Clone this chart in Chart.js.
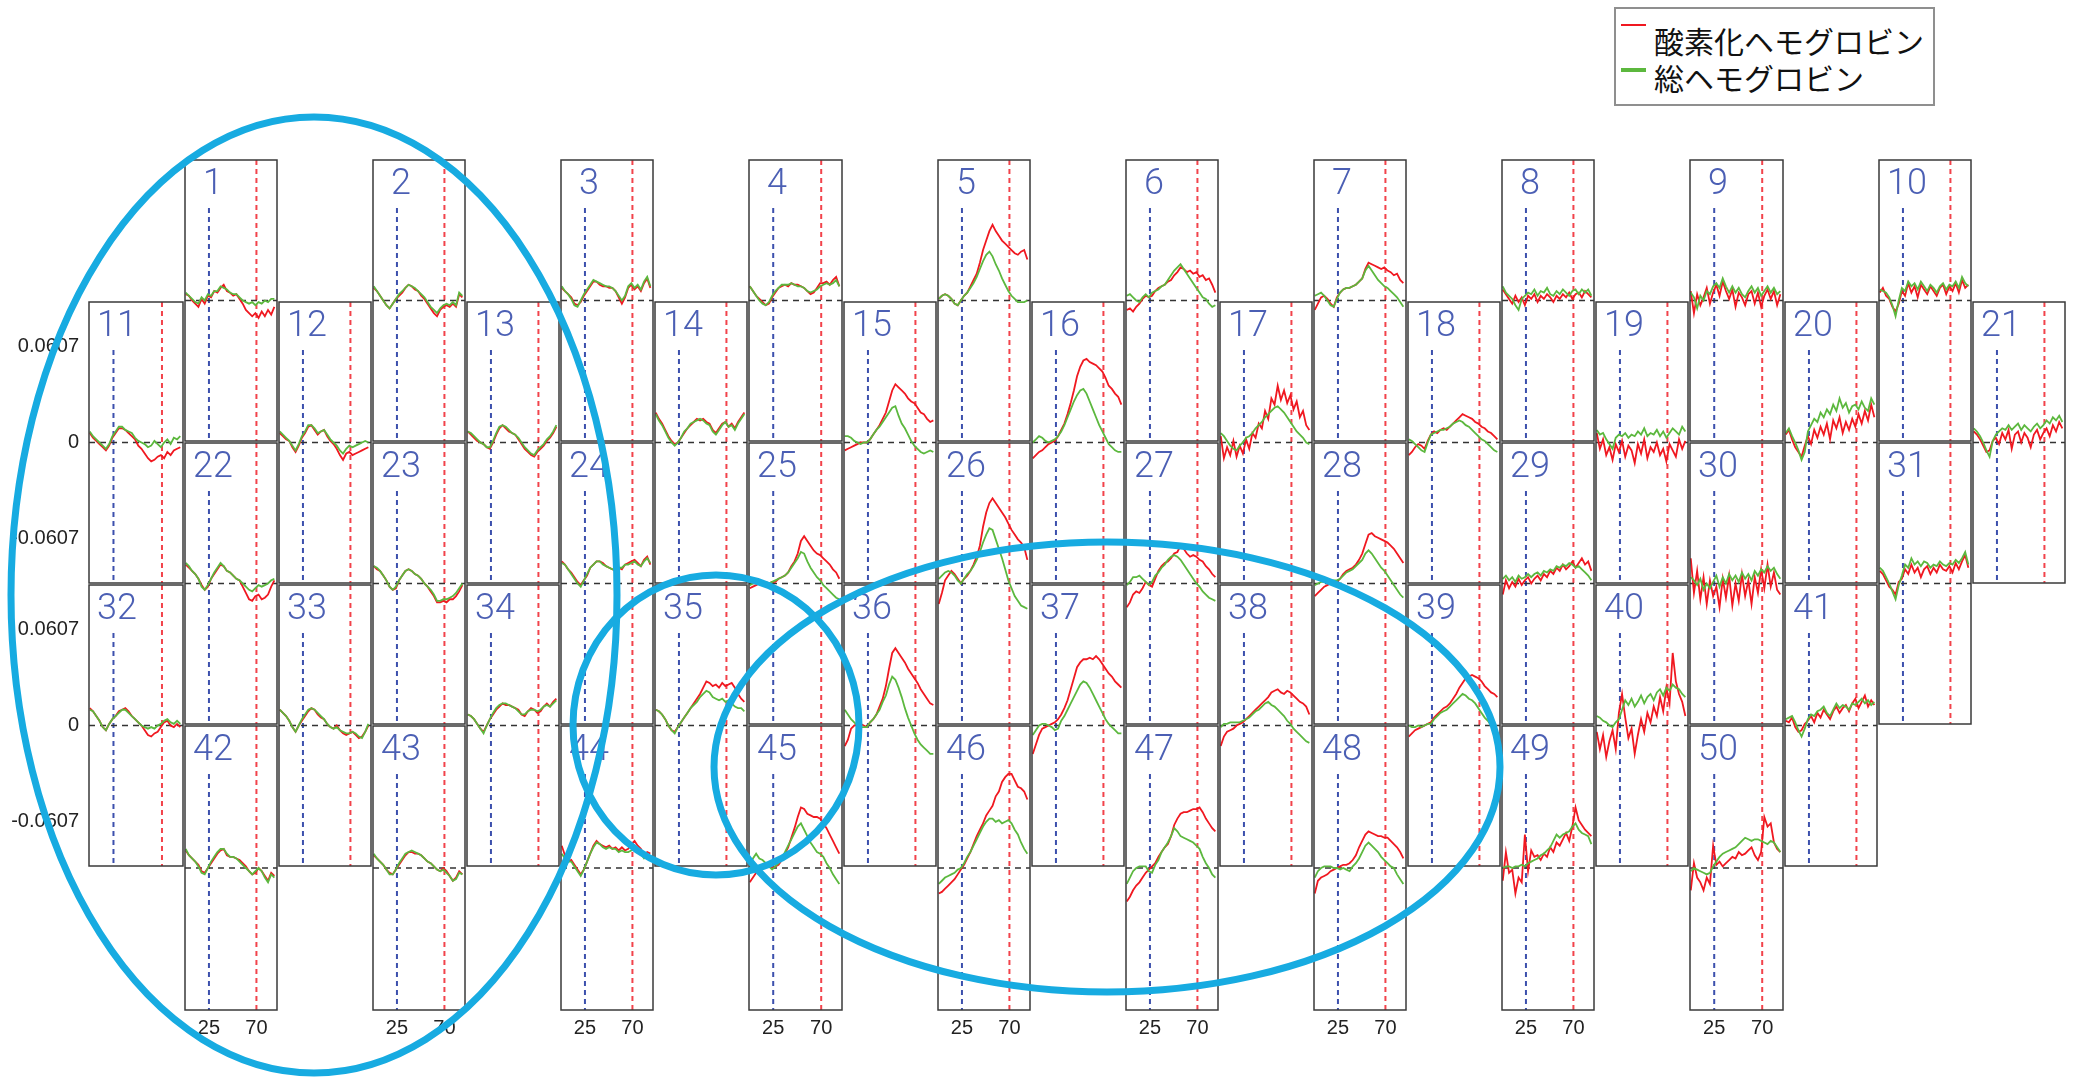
<!DOCTYPE html>
<html lang="ja">
<head>
<meta charset="utf-8">
<title>NIRS 50ch</title>
<script src="https://cdn.jsdelivr.net/npm/chart.js@4.4.1/dist/chart.umd.min.js"></script>
<style>
  html, body { margin: 0; padding: 0; background: #fff; }
  body { width: 2078px; height: 1081px; position: relative; overflow: hidden; }
  canvas.ch { position: absolute; }
  #overlay { position: absolute; left: 0; top: 0; pointer-events: none; z-index: 5; }
  #legend { position: absolute; left: 1614px; top: 7px; width: 321px; height: 99px; box-sizing: border-box;
            border: 2px solid #8f8f8f; background: #fff; font-family: 'Noto Sans CJK JP', sans-serif; font-size: 30px; color: #111; }
  #legend span { position: absolute; white-space: nowrap; line-height: 36px; }
</style>
</head>
<body>
<div id="legend"></div>
<canvas id="overlay" width="2078" height="1081"></canvas>
<script>
// time axis (s) and markers
const times = [3, 6, 9, 12, 15, 18, 21, 24, 27, 30, 33, 36, 39, 42, 45, 48, 51, 54, 57, 60, 63, 66, 69, 72, 75, 78, 81, 84, 87];
const xTicks = [25, 70];
const yTicks = [-0.0607, 0, 0.0607];
const yTickLabels = ['-0.0607', '0', '0.0607'];
const seriesNames = ['酸素化ヘモグロビン', '総ヘモグロビン'];
const channelRows = [
  [1, 2, 3, 4, 5, 6, 7, 8, 9, 10],
  [11, 12, 13, 14, 15, 16, 17, 18, 19, 20, 21],
  [22, 23, 24, 25, 26, 27, 28, 29, 30, 31],
  [32, 33, 34, 35, 36, 37, 38, 39, 40, 41],
  [42, 43, 44, 45, 46, 47, 48, 49, 50]
];

// values in units of 0.001
const oxy1 = [4,3,0,-2,-4,1,-2,3,2,6,5,8,10,6,5,3,4,1,-2,-6,-8,-10,-8,-11,-7,-10,-6,-9,-4];
const tot1 = [5,3,1,-1,-2,2,0,4,3,6,6,9,8,7,5,4,4,2,0,-1,-2,-1,-3,-1,-2,0,-1,1,1];
const oxy2 = [8,6,3,0,-3,-5,-2,1,3,5,8,10,9,7,6,3,1,-2,-5,-8,-10,-6,-4,-3,-4,-2,-4,4,2];
const tot2 = [9,6,3,0,-3,-5,-2,1,4,6,8,10,9,8,6,4,2,-1,-4,-6,-8,-5,-3,-2,-3,-1,-3,5,3];
const oxy3 = [8,6,4,2,-2,-3,-1,3,6,9,12,12,10,9,9,8,8,6,2,-2,2,8,10,7,9,6,11,14,8];
const tot3 = [9,6,4,1,-3,-4,0,4,7,10,13,12,11,10,9,9,8,6,3,0,3,9,11,8,10,7,12,15,9];
const oxy4 = [9,6,3,1,-1,-3,-2,2,5,8,9,10,9,11,10,10,9,8,6,4,5,8,11,11,12,10,13,15,9];
const tot4 = [9,6,3,0,-2,-3,-1,3,6,8,10,10,10,11,10,9,9,8,6,5,6,7,9,10,11,10,11,13,9];
const oxy5 = [1,3,4,3,1,-2,-3,0,3,5,9,13,17,24,32,38,44,48,44,41,38,36,34,32,30,29,31,32,26];
const tot5 = [1,3,4,3,1,-2,-3,0,3,5,8,11,15,20,25,29,31,28,23,19,14,10,6,3,1,-1,-1,-1,0];
const oxy6 = [-6,-5,-7,-4,-2,1,3,2,3,6,8,9,10,12,13,16,18,21,20,18,19,17,18,15,16,13,14,10,5];
const tot6 = [3,4,2,0,-1,2,4,2,5,6,7,9,10,13,16,19,21,23,20,17,14,11,8,5,2,1,-2,-4,-3];
const oxy7 = [-6,-2,2,3,1,-2,-4,2,5,7,8,8,9,10,12,14,20,24,23,22,21,20,21,19,18,16,17,13,11];
const tot7 = [3,4,5,3,0,-3,-4,1,5,7,8,8,9,10,12,14,19,22,19,16,13,11,9,8,6,4,2,-1,-4];
const oxy8 = [7,4,1,-2,3,-1,2,-3,3,1,4,-1,3,1,4,2,-1,3,1,4,2,5,1,4,5,2,6,4,2];
const tot8 = [9,5,3,1,-3,-6,1,3,5,4,7,3,6,5,8,4,3,6,4,7,5,3,6,7,4,7,5,7,3];
const oxy9 = [6,-8,4,-3,2,8,-2,5,10,3,12,6,1,7,-4,5,2,-3,4,6,-2,5,-4,3,7,1,6,-3,4];
const tot9 = [5,2,-5,3,0,6,4,9,11,8,14,9,5,9,5,8,4,2,6,9,5,8,3,6,9,5,8,4,6];
const oxy10 = [5,8,3,1,-4,-7,-2,6,3,11,5,9,2,10,7,4,9,6,3,8,10,4,9,6,11,5,13,8,10];
const tot10 = [7,6,5,2,-3,-10,0,8,6,12,9,11,7,12,9,6,10,8,5,9,11,7,10,9,12,8,15,11,9];
const oxy11 = [6,3,1,-1,-3,-5,-2,3,6,9,9,8,6,4,2,-2,-4,-7,-10,-12,-11,-9,-8,-10,-6,-8,-5,-4,-3];
const tot11 = [7,4,2,0,-2,-4,-1,4,7,10,10,8,7,6,3,1,0,-1,-3,-2,1,-1,-3,0,2,-1,3,2,4];
const oxy12 = [6,4,2,1,-3,-6,-2,3,6,10,11,8,5,7,8,4,1,-1,-4,-8,-11,-7,-6,-8,-7,-6,-5,-4,-3];
const tot12 = [7,5,3,1,-2,-5,-1,4,7,11,11,9,6,7,8,5,2,0,-2,-5,-7,-4,-2,-3,-2,-1,0,1,0];
const oxy13 = [7,5,3,1,0,-1,-3,-4,0,5,9,11,9,7,6,5,2,-1,-4,-6,-8,-9,-6,-4,-2,1,3,6,10];
const tot13 = [7,6,4,2,0,-1,-3,-3,1,6,10,11,10,8,6,5,3,0,-3,-5,-7,-8,-5,-3,-1,2,4,7,11];
const oxy14 = [19,15,12,8,4,1,-1,0,3,6,9,11,13,15,14,15,13,12,8,6,9,12,13,10,12,9,13,16,19];
const tot14 = [18,14,11,7,3,0,-2,0,3,7,9,12,13,14,15,14,12,11,7,5,8,11,13,10,11,8,12,15,18];
const oxy15 = [-5,-4,-3,-2,-1,0,0,0,2,5,8,11,15,19,26,33,37,35,33,31,28,26,25,22,19,18,15,13,14];
const tot15 = [4,4,3,1,0,-1,0,0,2,5,8,10,13,16,19,22,23,17,12,9,5,1,-2,-4,-6,-7,-6,-5,-6];
const oxy16 = [-10,-8,-6,-5,-3,-1,0,1,4,8,12,18,25,33,42,48,52,53,51,50,49,47,45,41,36,34,31,29,24];
const tot16 = [0,2,4,3,1,0,1,2,4,7,11,16,21,26,30,33,34,31,26,21,16,11,7,3,-1,-3,-5,-6,-6];
const oxy17 = [4,-10,-3,-8,1,-9,-2,-7,2,-4,6,3,12,9,20,15,28,24,36,27,33,25,30,21,26,16,20,11,8];
const tot17 = [6,4,1,-2,-4,-5,-2,0,3,4,6,9,11,13,16,18,20,22,23,21,19,16,13,10,7,5,3,0,-1];
const oxy18 = [-8,-6,-3,-1,-2,-4,1,5,7,6,8,9,8,10,12,14,16,18,17,16,15,13,12,10,9,7,6,4,2];
const tot18 = [2,1,-1,-3,-5,-6,0,5,6,7,8,8,9,10,12,13,14,13,11,10,8,6,4,2,1,-1,-3,-5,-6];
const oxy19 = [6,-4,2,-8,-3,-11,-1,-6,1,-9,-2,-5,-13,-1,-7,2,-10,-3,-6,0,-8,-4,-12,-1,-5,-9,2,-4,1];
const tot19 = [8,5,6,2,-1,-4,3,5,4,6,3,5,4,7,5,9,4,6,5,8,4,7,3,6,9,7,5,10,7];
const oxy20 = [5,8,2,-3,-6,-9,-2,4,-1,8,3,10,5,12,2,14,9,16,6,13,8,15,10,18,12,20,14,24,16];
const tot20 = [6,9,4,0,-5,-11,-6,7,11,15,13,19,16,21,18,24,20,28,22,25,19,23,24,21,26,22,20,28,24];
const oxy21 = [7,5,2,-2,-6,-5,1,3,-1,6,2,8,-4,5,7,0,6,3,-3,5,8,2,6,9,4,11,7,13,9];
const tot21 = [9,7,4,0,-5,-9,1,5,7,9,8,11,8,10,12,8,11,9,7,10,12,9,11,14,12,16,14,17,13];
const oxy22 = [12,10,8,6,3,-1,-4,-2,3,6,9,12,11,8,7,5,3,2,-2,-6,-10,-11,-8,-7,-10,-9,-7,-2,2];
const tot22 = [13,11,8,6,3,-2,-4,-1,3,7,10,13,11,8,7,5,3,2,0,-2,-4,-5,-3,-1,-2,-1,0,2,3];
const oxy23 = [11,9,8,5,2,-2,-4,-3,2,5,8,9,8,6,5,3,0,-2,-5,-8,-12,-12,-11,-12,-10,-10,-8,-5,-1];
const tot23 = [11,10,8,5,2,-2,-4,-2,2,5,8,9,8,6,5,3,0,-2,-4,-7,-11,-11,-10,-10,-9,-8,-6,-3,0];
const oxy24 = [14,12,9,7,4,1,-1,2,5,10,12,14,14,13,11,10,9,8,10,9,12,13,14,15,13,11,15,17,12];
const tot24 = [13,12,9,6,3,0,-2,2,6,10,12,14,14,12,11,10,9,9,10,10,12,12,13,14,12,11,14,16,13];
const oxy25 = [-3,-2,-1,0,0,1,0,1,1,3,4,5,7,11,14,19,27,30,27,24,21,19,18,16,14,12,9,7,3];
const tot25 = [-1,0,1,1,1,1,0,1,2,3,4,5,7,10,13,16,20,19,14,10,7,4,2,-1,-3,-5,-7,-9,-10];
const oxy26 = [-13,-6,2,5,8,6,3,0,3,5,8,12,17,24,36,45,51,54,51,48,45,42,38,34,31,28,26,23,15];
const tot26 = [3,5,7,8,7,5,2,0,3,6,8,11,15,20,26,31,35,34,28,22,16,9,2,-3,-8,-11,-14,-15,-16];
const oxy27 = [-15,-12,-7,-5,-6,-3,1,-1,-2,3,8,11,13,14,16,19,20,24,22,19,17,18,17,15,14,11,9,6,4];
const tot27 = [-1,1,4,4,5,3,1,-1,1,5,7,10,12,15,17,18,17,15,12,9,6,3,0,-2,-5,-7,-9,-10,-11];
const oxy28 = [-8,-6,-4,-2,-1,0,1,1,3,6,8,9,10,12,15,19,25,31,32,30,29,28,27,26,24,22,19,16,13];
const tot28 = [-1,0,1,1,2,2,2,2,3,5,7,8,9,11,13,15,19,21,19,16,13,10,8,5,2,-1,-4,-7,-9];
const oxy29 = [-7,2,-3,1,-2,3,-1,2,4,0,3,5,2,6,4,8,6,10,8,12,9,11,14,10,13,16,12,14,8];
const tot29 = [3,5,2,4,1,5,3,4,6,4,6,7,5,8,7,9,8,11,10,12,11,13,12,10,11,9,7,5,2];
const oxy30 = [16,-6,8,-10,4,-13,2,-8,-2,-15,3,-9,5,-14,0,-11,6,-8,2,-13,4,-6,9,-3,12,-2,7,-4,-7];
const tot30 = [4,2,-1,3,-4,0,-3,1,5,-2,4,0,6,2,5,1,7,3,6,2,8,5,9,7,11,8,10,6,3];
const oxy31 = [8,6,2,-2,-4,-7,1,3,9,6,12,7,10,4,9,11,6,10,7,12,9,8,11,7,13,9,14,18,10];
const tot31 = [10,8,4,0,-5,-10,-1,5,12,10,16,12,14,11,14,13,10,12,11,14,12,11,13,12,15,13,16,20,12];
const oxy32 = [11,9,6,3,-1,-3,1,4,6,9,10,11,9,6,4,2,0,-3,-6,-7,-5,-4,-1,2,3,0,-1,1,-1];
const tot32 = [10,9,6,3,-1,-3,1,4,6,8,10,10,8,6,4,2,0,-1,-2,-1,-2,0,1,3,4,2,1,3,1];
const oxy33 = [10,8,6,3,-1,-4,0,3,6,9,11,10,7,5,4,1,-1,-2,0,-3,-5,-6,-5,-4,-6,-8,-7,-4,0];
const tot33 = [10,8,6,3,-1,-4,0,4,7,10,11,10,8,6,4,1,-1,-2,-1,-3,-4,-5,-5,-4,-5,-7,-8,-4,1];
const oxy34 = [7,6,4,1,-2,-4,0,4,7,10,12,14,13,13,12,11,10,7,6,9,11,10,8,9,12,14,12,15,17];
const tot34 = [7,6,4,1,-2,-5,0,4,8,11,13,14,14,13,12,11,9,7,7,9,10,10,9,10,12,13,12,14,16];
const oxy35 = [10,9,7,4,0,-3,-4,-1,2,5,8,11,14,17,20,24,28,27,25,26,24,27,25,26,27,24,20,17,15];
const tot35 = [10,9,7,4,0,-3,-5,-1,2,5,8,11,13,15,18,20,22,21,18,17,16,17,15,16,14,12,11,11,9];
const oxy36 = [-13,-9,-2,0,1,1,0,-1,2,4,7,12,17,25,36,46,49,46,43,40,36,33,30,27,23,20,17,14,13];
const tot36 = [10,7,4,2,0,-1,-1,-1,2,4,7,10,15,19,26,31,29,24,18,11,5,0,-5,-9,-12,-14,-16,-18,-18];
const oxy37 = [-18,-12,-6,-2,-1,0,1,2,4,7,11,16,23,30,37,40,42,42,43,42,44,42,39,36,33,31,28,26,24];
const tot37 = [-6,-3,0,1,1,0,-1,-3,-2,3,6,10,14,18,22,26,28,27,24,20,16,12,8,4,1,-1,-3,-5,-5];
const oxy38 = [-13,-7,-4,-3,-2,0,1,2,4,6,8,10,12,14,16,18,21,22,23,21,20,22,21,19,17,15,14,12,7];
const tot38 = [-1,1,1,2,2,2,2,3,4,5,7,9,10,12,14,15,13,12,10,8,6,3,1,-2,-4,-6,-8,-10,-11];
const oxy39 = [-7,-5,-3,-2,-1,0,1,2,5,7,9,11,12,14,17,20,24,27,30,31,32,31,30,28,25,23,21,20,18];
const tot39 = [0,-1,-1,0,-1,0,1,1,4,6,8,9,10,12,14,16,18,20,19,17,16,14,11,8,5,3,0,-2,-3];
const oxy40 = [-4,-15,-6,-20,-10,-3,-15,8,20,5,-8,-2,-18,-6,4,-4,8,2,12,6,18,9,24,14,46,28,20,15,6];
const tot40 = [6,5,3,2,0,-1,2,4,10,16,13,17,12,15,19,14,18,20,16,21,23,19,24,22,26,24,23,20,18];
const oxy41 = [3,2,5,-1,-4,-3,1,3,6,2,8,5,10,7,4,9,12,8,11,13,9,14,17,11,15,19,12,16,13];
const tot41 = [4,5,6,2,-3,-7,-2,4,7,6,9,10,12,8,6,10,14,11,13,12,10,14,13,15,17,14,16,13,15];
const oxy42 = [11,8,6,4,2,-2,-3,0,3,6,9,11,12,8,7,7,6,5,3,1,-2,-4,-3,0,-2,-5,-8,-3,-5];
const tot42 = [12,8,6,4,1,-3,-4,0,4,7,10,12,12,9,7,7,6,4,2,0,-2,-4,-2,0,-2,-6,-9,-4,-6];
const oxy43 = [8,6,4,2,-1,-3,-4,-1,2,5,8,10,10,9,9,8,6,4,3,1,-1,-2,0,-2,-5,-8,-6,-2,-4];
const tot43 = [9,6,4,2,-1,-4,-4,-1,3,6,9,10,11,10,9,8,6,4,3,1,-1,-2,-1,-3,-5,-8,-7,-3,-4];
const oxy44 = [14,8,4,5,2,-1,-4,-1,4,9,14,17,15,14,13,14,12,13,11,13,11,12,15,17,14,12,8,10,9];
const tot44 = [9,6,4,4,1,-2,-5,-1,4,9,13,16,15,13,12,13,12,12,10,11,10,10,11,12,10,9,6,8,7];
const oxy45 = [-9,-6,-3,-1,1,1,1,0,1,2,5,9,13,19,25,32,38,37,34,33,32,32,31,28,25,21,17,13,9];
const tot45 = [0,6,9,6,5,3,1,-1,1,3,6,10,14,18,22,26,28,24,20,16,13,10,9,7,3,0,-4,-7,-10];
const oxy46 = [-16,-15,-13,-11,-9,-7,-4,-1,2,6,10,15,20,24,28,33,36,39,45,48,54,57,59,59,55,51,50,48,43];
const tot46 = [-10,-8,-6,-5,-4,-3,-1,0,3,7,10,14,18,22,26,29,31,31,29,30,28,29,30,28,24,21,16,12,9];
const oxy47 = [-21,-18,-14,-11,-9,-6,-3,-1,1,3,7,10,13,15,20,27,31,34,35,35,36,37,37,38,35,31,28,25,23];
const tot47 = [-10,-6,-2,0,1,1,1,-2,-3,2,5,10,13,16,20,25,23,20,19,18,17,16,14,12,7,3,0,-4,-6];
const oxy48 = [-16,-8,-6,-5,-4,-2,-1,0,1,2,2,3,5,8,13,17,21,23,22,21,20,20,19,19,17,15,13,10,6];
const tot48 = [-6,-2,0,1,1,1,0,0,-1,0,-1,-2,1,3,6,10,14,16,14,12,10,7,5,3,1,0,-4,-7,-10];
const oxy49 = [-8,10,-3,-1,-16,-6,-9,21,-2,11,7,8,5,9,7,13,10,16,14,18,22,17,26,38,30,27,24,22,20];
const tot49 = [0,1,1,0,1,1,2,1,3,4,5,6,8,9,11,13,17,21,19,21,22,23,26,28,24,22,21,20,15];
const oxy50 = [-14,3,-6,-9,-14,-6,-10,14,2,4,1,3,5,7,6,10,8,9,11,13,8,5,10,32,26,28,16,12,10];
const tot50 = [-2,0,-1,-2,-3,-4,-3,1,4,7,9,10,11,12,13,15,17,19,18,17,18,18,17,16,15,17,16,13,10];

const oxySeries = [oxy1, oxy2, oxy3, oxy4, oxy5, oxy6, oxy7, oxy8, oxy9, oxy10,
  oxy11, oxy12, oxy13, oxy14, oxy15, oxy16, oxy17, oxy18, oxy19, oxy20, oxy21,
  oxy22, oxy23, oxy24, oxy25, oxy26, oxy27, oxy28, oxy29, oxy30, oxy31,
  oxy32, oxy33, oxy34, oxy35, oxy36, oxy37, oxy38, oxy39, oxy40, oxy41,
  oxy42, oxy43, oxy44, oxy45, oxy46, oxy47, oxy48, oxy49, oxy50];
const totSeries = [tot1, tot2, tot3, tot4, tot5, tot6, tot7, tot8, tot9, tot10,
  tot11, tot12, tot13, tot14, tot15, tot16, tot17, tot18, tot19, tot20, tot21,
  tot22, tot23, tot24, tot25, tot26, tot27, tot28, tot29, tot30, tot31,
  tot32, tot33, tot34, tot35, tot36, tot37, tot38, tot39, tot40, tot41,
  tot42, tot43, tot44, tot45, tot46, tot47, tot48, tot49, tot50];

const RED = '#f01820', GREEN = '#5cb83e';
const tickFont = { family: "'Liberation Sans Narrow', 'Liberation Sans', sans-serif", size: 20 };

// panel grid
const X0 = 88.8, PW = 94.1, Y0 = 160, PH = 283.2;

function toPoints(arr) {
  return times.map((t, i) => ({ x: t, y: arr[i] / 1000 }));
}

// no label overflow padding: the box must keep its exact size
function fixAxis(s, w, h) {
  if (w !== null) s.width = w;
  if (h !== null) s.height = h;
  s.paddingTop = 0; s.paddingBottom = 0; s.paddingLeft = 0; s.paddingRight = 0;
}

const panelDeco = {
  id: 'panelDeco',
  beforeDatasetsDraw(chart) {
    const { ctx, chartArea: a, scales: { x, y } } = chart;
    ctx.save();
    ctx.lineWidth = 2;
    ctx.setLineDash([5, 4]);
    const xb = x.getPixelForValue(xTicks[0]);
    ctx.strokeStyle = '#3c50ad';
    ctx.beginPath(); ctx.moveTo(xb, a.top + 48); ctx.lineTo(xb, a.bottom); ctx.stroke();
    const xr = x.getPixelForValue(xTicks[1]);
    ctx.strokeStyle = '#f2434b';
    ctx.beginPath(); ctx.moveTo(xr, a.top); ctx.lineTo(xr, a.bottom); ctx.stroke();
    ctx.strokeStyle = '#333';
    ctx.lineWidth = 1.6;
    ctx.setLineDash([6, 5]);
    const y0 = y.getPixelForValue(0);
    ctx.beginPath(); ctx.moveTo(a.left, y0); ctx.lineTo(a.right, y0); ctx.stroke();
    ctx.restore();
  },
  afterDraw(chart, args, opts) {
    const { ctx, chartArea: a } = chart;
    ctx.save();
    ctx.lineWidth = 1.5;
    ctx.strokeStyle = '#3a3a3a';
    ctx.strokeRect(a.left, a.top, a.right - a.left, a.bottom - a.top);
    ctx.fillStyle = '#4b5fb4';
    ctx.font = "300 36px Roboto, 'Liberation Sans', sans-serif";
    ctx.textAlign = 'center';
    ctx.textBaseline = 'alphabetic';
    ctx.fillText(String(opts.ch), a.left + 28, a.top + 34);
    ctx.restore();
  }
};

function makePanel(ch, k, r) {
  const bx = Math.round(X0 + k * PW), bx2 = Math.round(X0 + (k + 1) * PW);
  const by = Math.round(Y0 + r * PH / 2), by2 = Math.round(Y0 + (r + 2) * PH / 2);
  const hasY = k === 0, hasX = r === channelRows.length - 1;
  const pad = 2;
  const padL = hasY ? bx : pad;
  const padB = hasX ? 50 : pad;
  const cv = document.createElement('canvas');
  cv.className = 'ch';
  cv.width = (bx2 - bx) + padL + pad;
  cv.height = (by2 - by) + pad + padB;
  cv.style.left = (bx - padL) + 'px';
  cv.style.top = (by - pad) + 'px';
  document.body.appendChild(cv);

  new Chart(cv, {
    type: 'line',
    data: {
      datasets: [
        { label: seriesNames[1], data: toPoints(totSeries[ch - 1]), borderColor: GREEN, borderWidth: 1.8, pointRadius: 0, tension: 0, order: 0 },
        { label: seriesNames[0], data: toPoints(oxySeries[ch - 1]), borderColor: RED, borderWidth: 1.8, pointRadius: 0, tension: 0, order: 1 }
      ]
    },
    options: {
      responsive: false,
      animation: false,
      devicePixelRatio: 1,
      events: [],
      layout: { padding: { left: hasY ? 0 : padL, right: pad, top: pad, bottom: hasX ? 0 : padB } },
      plugins: {
        legend: { display: false },
        tooltip: { enabled: false },
        panelDeco: { ch: ch }
      },
      scales: {
        x: {
          type: 'linear', min: 2.3, max: 89.5, display: hasX,
          grid: { display: false, drawTicks: false }, border: { display: false },
          afterBuildTicks: s => { s.ticks = xTicks.map(v => ({ value: v })); },
          afterFit: s => fixAxis(s, null, padB),
          ticks: { padding: 6, color: '#222', font: tickFont, maxRotation: 0, autoSkip: false }
        },
        y: {
          type: 'linear', min: -0.0891, max: 0.0891, display: hasY,
          grid: { display: false, drawTicks: false }, border: { display: false },
          afterBuildTicks: s => { s.ticks = yTicks.map(v => ({ value: v })); },
          afterFit: s => fixAxis(s, padL, null),
          ticks: { padding: 10, color: '#222', font: tickFont, autoSkip: false,
                   callback: v => yTickLabels[yTicks.indexOf(v)] }
        }
      }
    },
    plugins: [panelDeco]
  });
}

channelRows.forEach((row, r) => {
  row.forEach((ch, i) => {
    const k = (r % 2 === 0 ? 1 : 0) + 2 * i;
    makePanel(ch, k, r);
  });
});

// legend
const legend = document.getElementById('legend');
[
  { name: seriesNames[0], color: RED, lineTop: 15, lineH: 2, textTop: 13 },
  { name: seriesNames[1], color: GREEN, lineTop: 59, lineH: 4, textTop: 50 }
].forEach(item => {
  const sw = document.createElement('span');
  sw.style.cssText = `left:5px;top:${item.lineTop}px;width:25px;height:${item.lineH}px;background:${item.color};`;
  const tx = document.createElement('span');
  tx.style.cssText = `left:38px;top:${item.textTop}px;`;
  tx.textContent = item.name;
  legend.appendChild(sw);
  legend.appendChild(tx);
});

// hand-drawn highlight rings
const rings = [
  { cx: 314, cy: 595, rx: 303, ry: 478 },
  { cx: 716, cy: 725, rx: 143, ry: 150 },
  { cx: 1107, cy: 767, rx: 393, ry: 225 }
];
const ringPlugin = {
  id: 'rings',
  afterDraw(chart) {
    const ctx = chart.ctx;
    ctx.save();
    ctx.strokeStyle = '#17abe1';
    ctx.lineWidth = 7;
    rings.forEach(e => {
      ctx.beginPath();
      ctx.ellipse(e.cx, e.cy, e.rx, e.ry, 0, 0, Math.PI * 2);
      ctx.stroke();
    });
    ctx.restore();
  }
};
new Chart(document.getElementById('overlay'), {
  type: 'scatter',
  data: { datasets: [] },
  options: {
    responsive: false, animation: false, devicePixelRatio: 1, events: [],
    layout: { padding: 0 },
    plugins: { legend: { display: false }, tooltip: { enabled: false } },
    scales: { x: { display: false }, y: { display: false } }
  },
  plugins: [ringPlugin]
});
</script>
</body>
</html>
